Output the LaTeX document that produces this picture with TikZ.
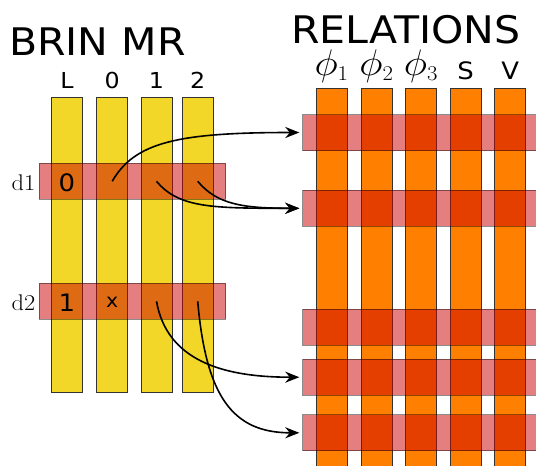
\RequirePackage{fix-cm}
\documentclass[tikz,border=0pt]{standalone}
\usepackage{amsmath}
\usepackage{fontspec}
\setsansfont{DejaVu Sans}[FakeStretch=1.08]
\usetikzlibrary{arrows.meta}
\DeclareMathSizes{37}{37}{21}{15}
\definecolor{mryellow}{RGB}{242,215,40}
\definecolor{relorange}{RGB}{255,128,0}
\definecolor{rowred}{RGB}{204,0,0}
\newcommand{\wider}[1]{\scalebox{1.08}[1]{#1}}

\tikzset{
  mrcol/.style={draw=black!80, line width=0.9pt, fill=mryellow, minimum width=31pt,
    minimum height=295pt, inner sep=0pt, anchor=north},
  relcol/.style={mrcol, fill=relorange, minimum height=400pt},
  row/.style={draw=black, draw opacity=0.45, line width=0.9pt, fill=rowred,
    fill opacity=0.5, inner sep=0pt, minimum height=36pt},
  title/.style={font=\fontsize{38}{40}\selectfont\sffamily, inner sep=0pt, anchor=base west},
  head/.style={font=\fontsize{22}{26}\selectfont\sffamily, inner sep=0pt, anchor=base},
  cell/.style={font=\fontsize{24}{28}\selectfont\sffamily, inner sep=0pt, yshift=-1.5pt},
  link/.style={line width=1.6pt, shorten >=3pt, -{Stealth[length=14pt, width=11pt, inset=4.5pt]}},
}

\begin{document}
\begin{tikzpicture}[x=1pt, y=-1pt]
  \useasboundingbox (0,0) rectangle (536,466);
  \clip (0,0) rectangle (536,466);

  \node[title] (brin) at (9,55) {BRIN MR};
  \node[title] (relations) at (291,43.3) {RELATIONS};

  \foreach \n/\x in {L/66.9, 0/112.2, 1/156.5, 2/197.7} {
    \node[mrcol] (mr\n) at (\x,96.7) {};
    \node[head] at ([yshift=8.7pt]mr\n.north) {\n};
  }
  \foreach \n/\x in {p1/331.6, p2/376.5, p3/421, s/465.7, v/510.3}
    \node[relcol] (rel\n) at (\x,88.3) {};

  \node[head, font=\fontsize{37}{40}\selectfont] at ([yshift=13.3pt]relp1.north) {\wider{$\phi_1$}};
  \node[head, font=\fontsize{37}{40}\selectfont] at ([yshift=13.3pt]relp2.north) {\wider{$\phi_2$}};
  \node[head, font=\fontsize{37}{40}\selectfont] at ([yshift=13.3pt]relp3.north) {\wider{$\phi_3$}};
  \node[head, font=\fontsize{24}{28}\selectfont\sffamily] at ([yshift=9.3pt]rels.north) {S};
  \node[head, font=\fontsize{24}{28}\selectfont\sffamily] at ([yshift=9.3pt]relv.north) {V};

  \node[row, minimum width=186.4pt] (d1) at (132.5,181.3) {};
  \node[row, minimum width=186.4pt] (d2) at (132.5,301.3) {};
  \node[head, font=\fontsize{22.6}{26}\selectfont] at (23.5,190.7) {\wider{d1}};
  \node[head, font=\fontsize{22.6}{26}\selectfont] at (23.5,310.7) {\wider{d2}};

  \foreach \n/\y in {1/132.5, 2/208.3, 3/327.2, 4/377.2, 5/432.8}
    \node[row, minimum width=260pt, anchor=west] (r\n) at (302.3,\y) {};

  \node[cell] at (mrL |- d1) {0};
  \node[cell] at (mrL |- d2) {1};
  \node[cell, font=\fontsize{19}{22}\selectfont\sffamily] at (mr0 |- d2) {x};

  \coordinate (d1c0) at (mr0 |- d1);
  \coordinate (d1c1) at (mr1 |- d1);
  \coordinate (d1c2) at (mr2 |- d1);
  \coordinate (d2c1) at (mr1 |- d2);
  \coordinate (d2c2) at (mr2 |- d2);

  \draw[link] (d1c0) to[out=60, in=180, out distance=45pt, in distance=125pt] (r1.west);
  \draw[link] (d1c1) to[out=-50, in=180, out distance=35pt, in distance=90pt] (r2.west);
  \draw[link] (d1c2) to[out=-50, in=180, out distance=30pt, in distance=60pt] (r2.west);
  \draw[link] (d2c1) to[out=-80, in=180, out distance=60pt, in distance=80pt] (r4.west);
  \draw[link] (d2c2) to[out=-85, in=180, out distance=95pt, in distance=70pt] (r5.west);
\end{tikzpicture}
\end{document}
